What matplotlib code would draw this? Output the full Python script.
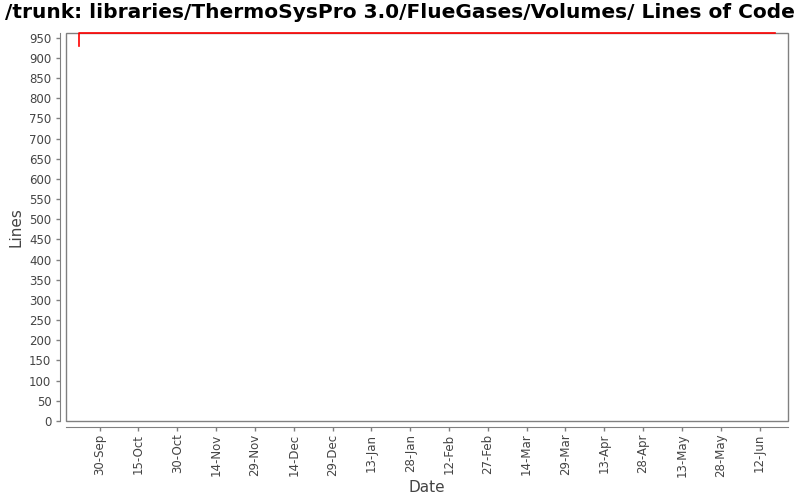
"""
Lines of code over time for one repository folder (StatSVN style chart).
"""

import datetime as dt

import matplotlib
matplotlib.use("Agg")
import matplotlib.pyplot as plt
import matplotlib.dates as mdates
import matplotlib.patches as patches

TITLE = "/trunk: libraries/ThermoSysPro 3.0/FlueGases/Volumes/ Lines of Code"

# commit history (step line)
DATES = ["2008-09-22", "2008-09-22", "2009-06-18"]
LINES = [930, 961, 961]

X_RANGE = ["2008-09-17", "2009-06-23"]
Y_TICKS = list(range(0, 951, 50))
FIRST_TICK = "2008-09-30"
TICK_STEP_DAYS = 15

GRAY = "#808080"
TEXT = "#444444"

dates = [dt.datetime.strptime(d, "%Y-%m-%d") for d in DATES]
x0, x1 = [dt.datetime.strptime(d, "%Y-%m-%d") for d in X_RANGE]

fig = plt.figure(figsize=(8, 5), dpi=100)
ax = fig.add_axes([66 / 800, 1 - 421 / 500, (788 - 66) / 800, (421 - 33) / 500])

ax.plot(dates, LINES, color="#ff0000", linewidth=1.2, drawstyle="steps-post", zorder=3,
        clip_on=False)

ax.set_xlim(x0, x1)
ax.set_ylim(0, 961.5)
ax.set_yticks(Y_TICKS)

ticks = []
t = dt.datetime.strptime(FIRST_TICK, "%Y-%m-%d")
while t <= x1:
    ticks.append(t)
    t += dt.timedelta(days=TICK_STEP_DAYS)
ax.set_xticks(ticks)
ax.xaxis.set_major_formatter(mdates.DateFormatter("%-d-%b"))

for side in ("top", "right"):
    ax.spines[side].set_visible(False)
for side in ("left", "bottom"):
    ax.spines[side].set_position(("outward", 4))
    ax.spines[side].set_color(GRAY)
ax.add_patch(patches.Rectangle((0, 0), 1, 1, transform=ax.transAxes, fill=False,
                               edgecolor=GRAY, linewidth=1, clip_on=False, zorder=2))

ax.tick_params(colors=GRAY, labelcolor=TEXT, labelsize=8.5, length=3, width=1)
ax.tick_params(axis="x", labelrotation=90, pad=2)
ax.set_xlabel("Date", fontsize=11, color=TEXT, labelpad=2)
ax.set_ylabel("Lines", fontsize=11, color=TEXT)
fig.suptitle(TITLE, x=0.5, y=0.995, va="top", fontsize=14.5, fontweight="bold")

fig.savefig("out.png", dpi=100)
